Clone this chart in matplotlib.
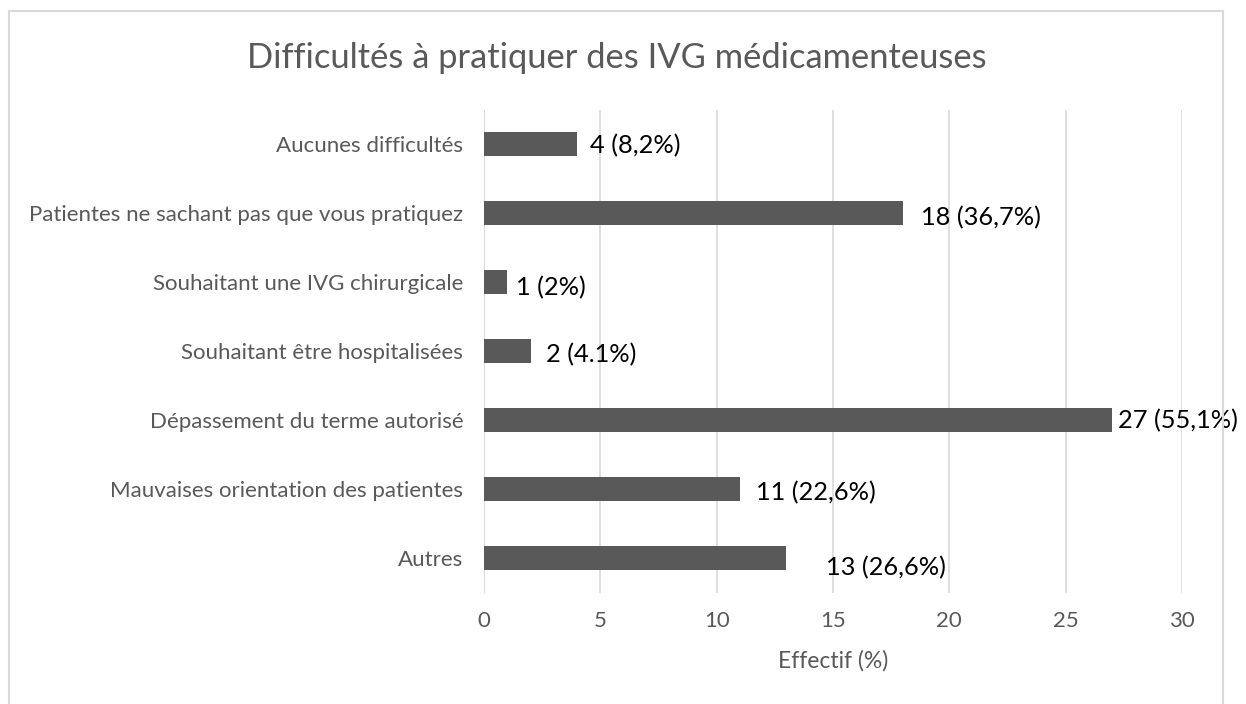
import matplotlib.pyplot as plt
from matplotlib.patches import Rectangle

plt.rcParams['font.family'] = ['Lato', 'DejaVu Sans']

categories = ['Aucunes difficultés', 'Patientes ne sachant pas que vous pratiquez',
              'Souhaitant une IVG chirurgicale', 'Souhaitant être hospitalisées',
              'Dépassement du terme autorisé', 'Mauvaises orientation des patientes',
              'Autres']
values = [4, 18, 1, 2, 27, 11, 13]
labels = ['4 (8,2%)', '18 (36,7%)', '1 (2%)', '2 (4.1%)', '27 (55,1%)',
          '11 (22,6%)', '13 (26,6%)']
# label offsets (pixels) as placed by hand in the original
label_dx = [13, 18, 9, 15, 6, 16, 40]
label_dy = [-2, -5, -6, -4, -1, -4, -10]

fig = plt.figure(figsize=(12.46, 7.04), dpi=100)
ax = fig.add_axes([484 / 1246, 1 - 592.5 / 704, 698 / 1246, 483 / 704])

y = list(range(len(categories)))[::-1]
ax.barh(y, values, height=0.355, color='#595959', zorder=3)

for yi, v, lab, dx, dy in zip(y, values, labels, label_dx, label_dy):
    ax.annotate(lab, (v, yi), xytext=(dx, dy), textcoords='offset pixels',
                ha='left', va='center', fontsize=18.3, color='black',
                annotation_clip=False)

ax.set_xlim(0, 30)
ax.set_ylim(-0.5, len(categories) - 0.5)
ax.set_xticks(range(0, 31, 5))
ax.set_yticks(y)
ax.set_yticklabels(categories)
ax.tick_params(axis='y', length=0, pad=15, labelsize=16, labelcolor='#595959')
ax.tick_params(axis='x', length=0, pad=13, labelsize=16, labelcolor='#595959')
ax.grid(axis='x', color='#d9d9d9', linewidth=1.2, zorder=0)
ax.grid(axis='y', visible=False)
for s in ax.spines.values():
    s.set_visible(False)
ax.axvline(0, color='#d9d9d9', linewidth=1.2, zorder=1)

ax.set_xlabel('Effectif (%)', fontsize=16.5, color='#595959', labelpad=14)
fig.text(617 / 1246, 1 - 58 / 704, 'Difficultés à pratiquer des IVG médicamenteuses',
         ha='center', va='center', fontsize=24.8, color='#595959')

fig.patches.append(Rectangle((9 / 1246, -0.05), 1214 / 1246, 1.05 - 11 / 704,
                             transform=fig.transFigure, fill=False,
                             edgecolor='#d9d9d9', linewidth=1.5))

fig.savefig('out.png', dpi=100)
